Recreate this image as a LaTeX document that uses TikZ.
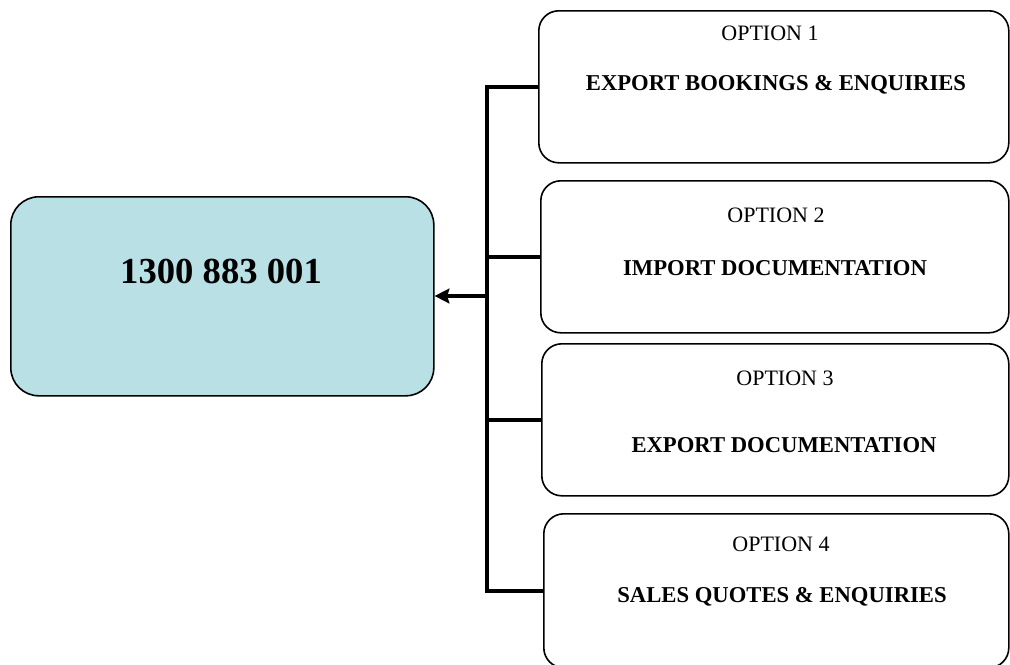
\documentclass[tikz,border=0pt]{standalone}
\usepackage{fontspec}
\setmainfont{Liberation Serif}
\usetikzlibrary{arrows.meta}
\definecolor{mainfill}{RGB}{185,224,228}
\begin{document}
\begin{tikzpicture}[x=0.75pt,y=-0.75pt,
  optbox/.style={draw, line width=1.2pt, rounded corners=15pt, anchor=north west, inner sep=0pt, minimum height=114pt},
  mainbox/.style={draw, fill=mainfill, line width=1.2pt, rounded corners=21pt, anchor=north west, inner sep=0pt, minimum width=317.25pt, minimum height=149.25pt},
  opttext/.style={font=\fontsize{16.5}{18}\selectfont, inner sep=0pt},
  titletext/.style={font=\fontsize{17}{19}\selectfont\bfseries, inner sep=0pt},
  conn/.style={line width=2.8pt}]
\useasboundingbox (0,0) rectangle (1010,664);

\node[mainbox] (main) at (10,196) {};
\node[font=\fontsize{27.5}{30}\selectfont\bfseries, inner sep=0pt] (num) at (221,271) {1300 883 001};

\node[optbox, minimum width=352.5pt] (o1) at (538,10) {};
\node[optbox, minimum width=351pt] (o2) at (540,180) {};
\node[optbox, minimum width=350.25pt] (o3) at (541,343) {};
\node[optbox, minimum width=348.75pt, minimum height=115.5pt] (o4) at (543,513) {};

\node[opttext] (o1a) at (770,33) {OPTION 1};
\node[titletext] (o1b) at (776,85) {EXPORT BOOKINGS \& ENQUIRIES};
\node[opttext] (o2a) at (776,215) {OPTION 2};
\node[titletext] (o2b) at (775,268) {IMPORT DOCUMENTATION};
\node[opttext] (o3a) at (785,378) {OPTION 3};
\node[titletext] (o3b) at (784,445) {EXPORT DOCUMENTATION};
\node[opttext] (o4a) at (781,544) {OPTION 4};
\node[titletext] (o4b) at (782,597) {SALES QUOTES \& ENQUIRIES};

\coordinate (j) at (487,296);
\draw[conn] (o1.west) -| (j);
\draw[conn] (o2.west) -| (j);
\draw[conn] (o3.west) -| (j);
\draw[conn] (o4.west) -| (j);
\draw[conn, -{Stealth[length=11pt, width=11pt, inset=1.5pt]}] (j) -- (main.east |- j);
\end{tikzpicture}
\end{document}
